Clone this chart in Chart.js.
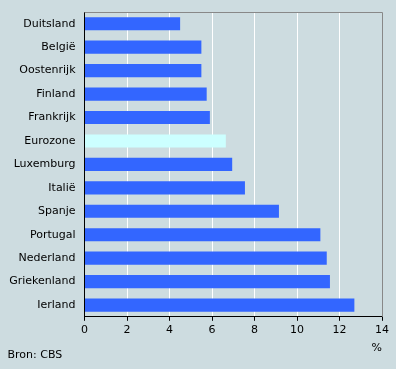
<!DOCTYPE html>
<html>
<head>
<meta charset="utf-8">
<script src="https://cdn.jsdelivr.net/npm/chart.js@4/dist/chart.umd.min.js"></script>
<style>
  html, body { margin: 0; padding: 0; background: #cddce0; }
  #wrap { width: 396px; height: 369px; }
</style>
</head>
<body>
<div id="wrap"><canvas id="c"></canvas></div>
<script>
const countries = ["Duitsland", "België", "Oostenrijk", "Finland", "Frankrijk", "Eurozone",
  "Luxemburg", "Italië", "Spanje", "Portugal", "Nederland", "Griekenland", "Ierland"];
const values = [4.5, 5.5, 5.5, 5.75, 5.9, 6.65, 6.95, 7.55, 9.15, 11.1, 11.4, 11.55, 12.7];
const xTicks = [0, 2, 4, 6, 8, 10, 12, 14];

// top and right frame lines in gray
const frame = {
  id: "frame",
  afterDraw(chart) {
    const { ctx, chartArea: a } = chart;
    ctx.save();
    ctx.strokeStyle = "#888888";
    ctx.lineWidth = 1;
    ctx.beginPath();
    ctx.moveTo(a.left, Math.round(a.top) + 0.5);
    ctx.lineTo(Math.round(a.right) + 0.5, Math.round(a.top) + 0.5);
    ctx.lineTo(Math.round(a.right) + 0.5, a.bottom);
    ctx.stroke();
    ctx.restore();
  }
};

Chart.defaults.font.family = "'DejaVu Sans', Verdana, sans-serif";
Chart.defaults.font.size = 11;
Chart.defaults.color = "#000";

new Chart(document.getElementById("c"), {
  type: "bar",
  data: {
    labels: countries,
    datasets: [{
      data: values,
      backgroundColor: countries.map((c) => c === "Eurozone" ? "#ccffff" : "#3366ff"),
      borderWidth: 0,
      barPercentage: 0.56,
      categoryPercentage: 1
    }]
  },
  options: {
    indexAxis: "y",
    responsive: true,
    maintainAspectRatio: false,
    animation: false,
    layout: { padding: { left: 7.5, right: 14, top: 12, bottom: 7 } },
    plugins: {
      legend: { display: false },
      tooltip: { enabled: false },
      subtitle: {
        display: true,
        text: "Bron: CBS",
        position: "bottom",
        align: "start",
        color: "#000",
        font: { size: 11, weight: "normal" },
        padding: { top: -6, bottom: 0 }
      }
    },
    scales: {
      x: {
        min: 0,
        max: 14,
        afterBuildTicks: (s) => { s.ticks = xTicks.map((v) => ({ value: v })); },
        grid: {
          color: (c) => (c.tick && (c.tick.value === 0 || c.tick.value === 14)) ? "rgba(0,0,0,0)" : "#ffffff",
          tickColor: "#000",
          tickLength: 4,
          lineWidth: 1
        },
        border: { color: "#000", width: 1 },
        ticks: { padding: 3, color: "#000" },
        title: {
          display: true,
          text: "%",
          align: "end",
          color: "#000",
          font: { size: 11 },
          padding: { top: 0, bottom: 0 }
        },
        afterFit: (s) => { s.height = 38; }
      },
      y: {
        grid: { display: false, drawTicks: false },
        border: { color: "#000", width: 1 },
        ticks: { padding: 9, color: "#000" },
        afterFit: (s) => {
          s.width = 77;
          s.paddingTop = 0;
          s.paddingBottom = 0;
        }
      }
    }
  },
  plugins: [frame]
});
</script>
</body>
</html>
